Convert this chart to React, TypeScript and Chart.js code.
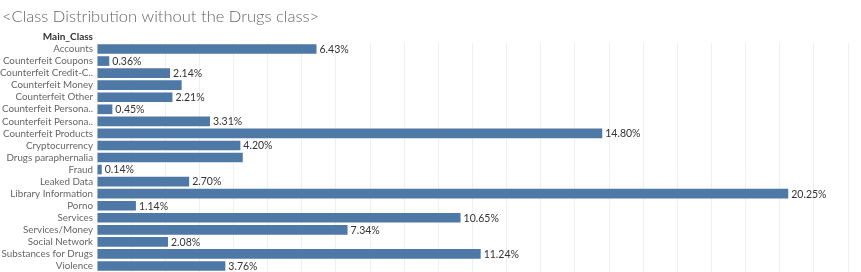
import React, { useEffect, useRef } from "react";
import { Chart, registerables } from "chart.js";

Chart.register(...registerables);

const titleText = "<Class Distribution without the Drugs class>";
const axisHeader = "Main_Class";
const categories = [
  "Accounts",
  "Counterfeit Coupons",
  "Counterfeit Credit-C..",
  "Counterfeit Money",
  "Counterfeit Other",
  "Counterfeit Persona..",
  "Counterfeit Persona..",
  "Counterfeit Products",
  "Cryptocurrency",
  "Drugs paraphernalia",
  "Fraud",
  "Leaked Data",
  "Library Information",
  "Porno",
  "Services",
  "Services/Money",
  "Social Network",
  "Substances for Drugs",
  "Violence",
];
const shares = [6.43, 0.36, 2.14, 2.48, 2.21, 0.45, 3.31, 14.8, 4.2, 4.27, 0.14, 2.7, 20.25, 1.14, 10.65, 7.34, 2.08, 11.24, 3.76];
const valueLabels = [
  "6.43%", "0.36%", "2.14%", null, "2.21%", "0.45%", "3.31%", "14.80%", "4.20%", null,
  "0.14%", "2.70%", "20.25%", "1.14%", "10.65%", "7.34%", "2.08%", "11.24%", "3.76%",
];
const xMax = 22;

const FONT = "Lato, 'Open Sans', sans-serif";

export default function App() {
  const ref = useRef<HTMLCanvasElement | null>(null);
  useEffect(() => {
    document.body.style.margin = "0";
    const canvas = ref.current!;
    const overlay = {
      id: "overlay",
      afterDatasetsDraw(chart: any) {
        const ctx = chart.ctx;
        const meta = chart.getDatasetMeta(0);
        ctx.save();
        ctx.font = `10.5px ${FONT}`;
        ctx.fillStyle = "#333";
        ctx.textBaseline = "middle";
        ctx.textAlign = "left";
        meta.data.forEach((bar: any, i: number) => {
          const t = valueLabels[i];
          if (t) ctx.fillText(t, bar.x + 3, bar.y + 0.5);
        });
        ctx.restore();
      },
      afterDraw(chart: any) {
        const ctx = chart.ctx;
        ctx.save();
        ctx.font = `300 16.5px ${FONT}`;
        ctx.fillStyle = "#666";
        ctx.textBaseline = "middle";
        ctx.textAlign = "left";
        ctx.fillText(titleText, 2, 17);
        ctx.font = `bold 10px ${FONT}`;
        ctx.fillStyle = "#333";
        ctx.textAlign = "right";
        ctx.fillText(axisHeader, chart.chartArea.left - 4, 37);
        ctx.restore();
      },
    };
    const chart = new Chart(canvas, {
      type: "bar",
      data: {
        labels: categories,
        datasets: [
          {
            data: shares,
            backgroundColor: "#4e79a7",
            borderWidth: 0,
            categoryPercentage: 1,
            barPercentage: 0.8,
          },
        ],
      },
      options: {
        indexAxis: "y",
        animation: false,
        responsive: false,
        maintainAspectRatio: false,
        layout: { padding: { top: 43, right: 13, bottom: 0, left: 0 } },
        plugins: { legend: { display: false }, tooltip: { enabled: false }, title: { display: false } },
        scales: {
          x: {
            min: 0,
            max: xMax,
            ticks: { display: false, stepSize: 1 },
            grid: { color: "#efefef", drawTicks: false },
            border: { display: false },
            afterFit(scale: any) {
              scale.height = 0;
              scale.paddingLeft = 0;
              scale.paddingRight = 0;
            },
          },
          y: {
            ticks: { color: "#666", font: { size: 9.8, family: FONT }, padding: 4, autoSkip: false },
            grid: { display: false, drawTicks: false },
            border: { display: false },
            afterFit(scale: any) {
              scale.width = 97;
              scale.paddingTop = 0;
              scale.paddingBottom = 0;
            },
          },
        },
      },
      plugins: [overlay],
    });
    return () => chart.destroy();
  }, []);
  return (
    <div style={{ width: 861, height: 272 }}>
      <canvas ref={ref} width={861} height={272} style={{ display: "block" }} />
    </div>
  );
}
